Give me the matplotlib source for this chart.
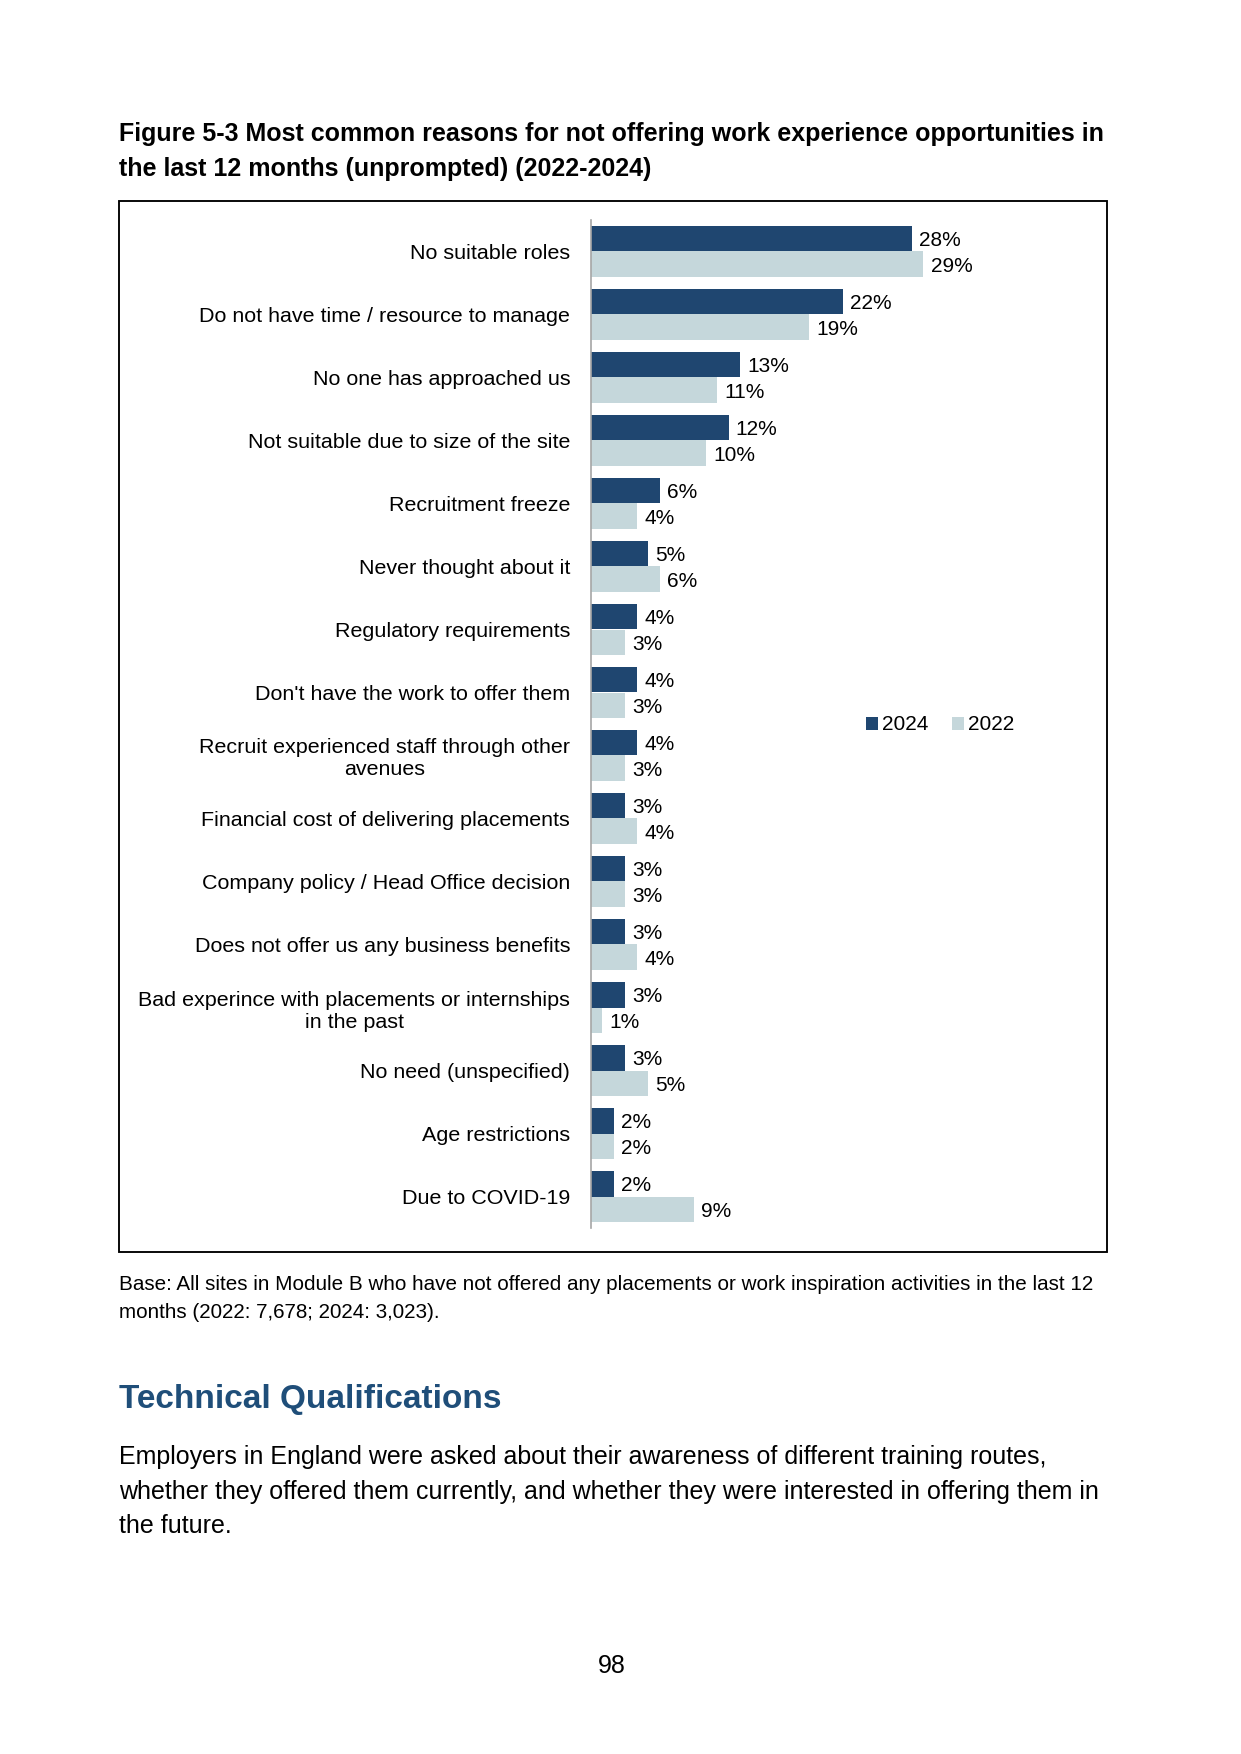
import numpy as np
import matplotlib.pyplot as plt
from matplotlib.patches import Rectangle

plt.rcParams['font.family'] = ['Liberation Sans', 'DejaVu Sans']

# data
reasons = ["No suitable roles", "Do not have time / resource to manage", "No one has approached us",
           "Not suitable due to size of the site", "Recruitment freeze", "Never thought about it",
           "Regulatory requirements", "Don't have the work to offer them",
           "Recruit experienced staff through other\navenues", "Financial cost of delivering placements",
           "Company policy / Head Office decision", "Does not offer us any business benefits",
           "Bad experince with placements or internships\nin the past", "No need (unspecified)",
           "Age restrictions", "Due to COVID-19"]
vals_2024 = [28, 22, 13, 12, 6, 5, 4, 4, 4, 3, 3, 3, 3, 3, 2, 2]
vals_2022 = [29, 19, 11, 10, 4, 6, 3, 3, 3, 4, 3, 4, 1, 5, 2, 9]

dark = '#1F4670'
light = '#C5D7DB'

W, H = 1241, 1754
fig = plt.figure(figsize=(W / 150, H / 150), dpi=150)

def fy(py):
    return 1 - py / H

def fx(px):
    return px / W

# title
fig.text(fx(119), fy(141), "Figure 5-3 Most common reasons for not offering work experience opportunities in",
         fontsize=12, fontweight='bold', va='baseline')
fig.text(fx(119), fy(176), "the last 12 months (unprompted) (2022-2024)",
         fontsize=12, fontweight='bold', va='baseline')

# box around chart
fig.patches.append(Rectangle((fx(119), fy(1252)), fx(1107) - fx(119), fy(201) - fy(1252),
                             transform=fig.transFigure, fill=False, edgecolor='black', linewidth=0.9))

ax = fig.add_axes([fx(591), fy(1228), fx(489), 1008 / H])
y = np.arange(len(reasons))
h = 0.41
b1 = ax.barh(y - h / 2, vals_2024, height=h, color=dark, label='2024')
b2 = ax.barh(y + h / 2, vals_2022, height=h, color=light, label='2022')
for bars, vals in [(b1, vals_2024), (b2, vals_2022)]:
    for bar, v in zip(bars, vals):
        ax.annotate(f"{v}%", (bar.get_width(), bar.get_y() + bar.get_height() / 2),
                    xytext=(3.5, -0.8), textcoords='offset points', va='center', ha='left', fontsize=10)

ax.set_ylim(len(reasons) - 0.5, -0.5)
ax.set_xlim(0, 489 / 11.46)
ax.set_yticks(y)
ax.set_yticklabels(reasons, fontsize=10.3)
for t in ax.get_yticklabels():
    t.set_multialignment('center')
ax.tick_params(axis='y', length=0, pad=10)
ax.set_xticks([])
for s in ['top', 'right', 'bottom']:
    ax.spines[s].set_visible(False)
ax.spines['left'].set_color('#A6A6A6')
ax.spines['left'].set_linewidth(0.8)

fig.legend(handles=[b1, b2], labels=['2024', '2022'], loc='center',
           bbox_to_anchor=(fx(940), fy(725)), ncol=2, frameon=False, fontsize=10,
           handlelength=0.6, handleheight=0.6, handletextpad=0.2, columnspacing=1.1)

# note under chart
fig.text(fx(119), fy(1290), "Base: All sites in Module B who have not offered any placements or work inspiration activities in the last 12",
         fontsize=9.9, va='baseline')
fig.text(fx(119), fy(1318), "months (2022: 7,678; 2024: 3,023).", fontsize=9.9, va='baseline')

fig.text(fx(119), fy(1408), "Technical Qualifications", fontsize=16, fontweight='bold',
         color='#1F4E79', va='baseline')
body = ["Employers in England were asked about their awareness of different training routes,",
        "whether they offered them currently, and whether they were interested in offering them in",
        "the future."]
for i, line in enumerate(body):
    fig.text(fx(119), fy(1464 + i * 34.5), line, fontsize=12, va='baseline')

fig.text(fx(612), fy(1673), "98", fontsize=12, ha='center', va='baseline')

fig.savefig('out.png', dpi=150)
